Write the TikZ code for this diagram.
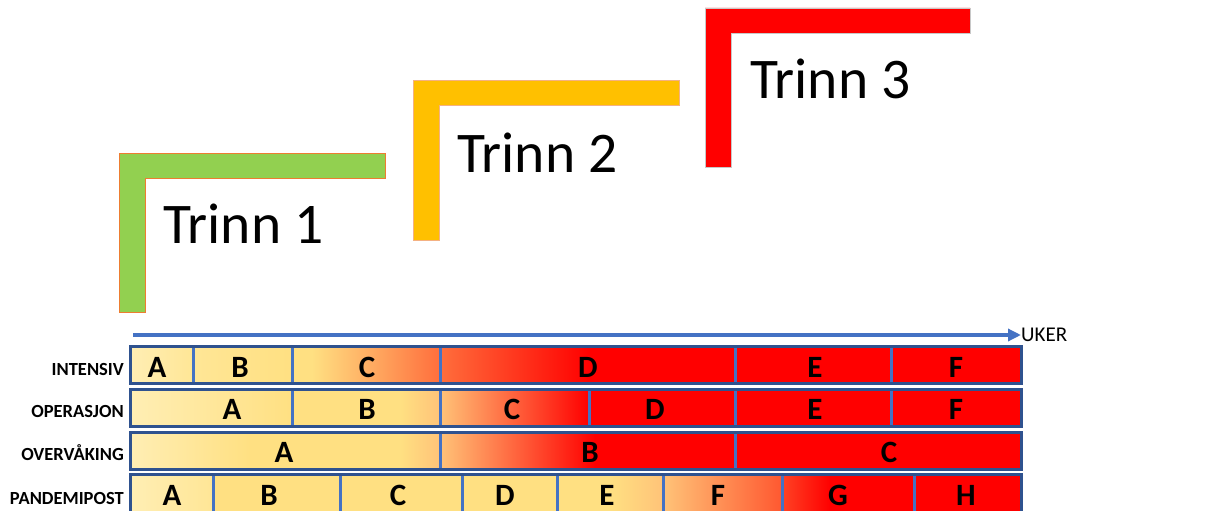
\documentclass[tikz,border=0pt]{standalone}
\usepackage{fontspec}
\setmainfont{Carlito}
\usetikzlibrary{arrows.meta}

\definecolor{trinngreen}{RGB}{146,208,80}
\definecolor{trinnyellow}{RGB}{255,192,0}
\definecolor{trinnorange}{RGB}{237,125,49}
\definecolor{trinnpeach}{RGB}{244,177,131}
\definecolor{trinngray}{RGB}{200,200,200}
\definecolor{axisblue}{RGB}{68,114,196}
\definecolor{boxblue}{RGB}{47,82,143}
\definecolor{paleyel}{RGB}{255,238,180}
\definecolor{lightyel}{RGB}{255,230,150}
\definecolor{midyel}{RGB}{255,224,130}
\definecolor{peach}{RGB}{255,195,120}
\definecolor{orgred}{RGB}{255,110,60}
\definecolor{fullred}{RGB}{255,0,0}

\tikzset{
  trinn/.style={anchor=base west, inner sep=0pt, font=\fontsize{57.5}{60}\selectfont},
  rowlbl/.style={anchor=base east, inner sep=0pt, font=\fontsize{18.5}{20}\selectfont\bfseries},
  seglbl/.style={anchor=base, inner sep=0pt, font=\fontsize{31}{33}\selectfont\bfseries},
  divider/.style={axisblue, line width=3pt},
  rowbox/.style={boxblue, line width=3pt}
}

\begin{document}
\begin{tikzpicture}[x=1pt, y=-1pt, line join=miter, >={Triangle[length=13pt,width=12pt]}]
  \useasboundingbox (0,0) rectangle (1226,511);

  % trinn
  \draw[trinnorange, fill=trinngreen, line width=0.8pt] (119,153)--(385,153)--(385,178)--(145,178)--(145,312)--(119,312)--cycle;
  \draw[trinnpeach, fill=trinnyellow, line width=0.8pt] (413,80)--(679,80)--(679,105)--(439,105)--(439,240)--(413,240)--cycle;
  \draw[trinngray, fill=fullred, line width=0.8pt] (705,8)--(970,8)--(970,33)--(731,33)--(731,167)--(705,167)--cycle;
  \node[trinn] (trinn1) at (163,243) {Trinn 1};
  \node[trinn] (trinn2) at (457,172) {Trinn 2};
  \node[trinn] (trinn3) at (750,99) {Trinn 3};

  % tidsakse
  \coordinate (t0) at (133,335);
  \node[anchor=west, inner sep=0pt, font=\fontsize{21}{23}\selectfont] (uker) at (1021,335) {UKER};
  \draw[->, axisblue, line width=3.5pt] (t0) -- (uker.west);

  % INTENSIV
  \foreach \xa/\xb/\ca/\cb in {130/193/paleyel/lightyel, 193/292/lightyel/midyel, 292/312/midyel/midyel,
      312/440/midyel/orgred, 440/590/orgred/fullred, 590/1021/fullred/fullred}
    \shade[left color=\ca, right color=\cb] (\xa,346) rectangle (\xb,383);
  \foreach \x in {193,292,440,735,891}
    \draw[divider] (\x,346) -- (\x,383);
  \draw[rowbox] (130,346) rectangle (1021,383);
  \node[rowlbl] (intensiv) at (124,375) {INTENSIV};
  \foreach \x/\l in {157/A,240/B,367/C,588/D,815/E,956/F}
    \node[seglbl] (int-\l) at (\x,377) {\l};

  % OPERASJON
  \foreach \xa/\xb/\ca/\cb in {130/292/paleyel/midyel, 292/400/midyel/midyel, 400/440/midyel/peach,
      440/589/peach/fullred, 589/1021/fullred/fullred}
    \shade[left color=\ca, right color=\cb] (\xa,389) rectangle (\xb,426);
  \foreach \x in {292,440,589,735,891}
    \draw[divider] (\x,389) -- (\x,426);
  \draw[rowbox] (130,389) rectangle (1021,426);
  \node[rowlbl] (operasjon) at (124,417) {OPERASJON};
  \foreach \x/\l in {232/A,367/B,512/C,655/D,815/E,956/F}
    \node[seglbl] (op-\l) at (\x,419) {\l};

  % OVERVÅKING
  \foreach \xa/\xb/\ca/\cb in {130/250/paleyel/midyel, 250/400/midyel/midyel, 400/440/midyel/peach,
      440/595/peach/fullred, 595/1021/fullred/fullred}
    \shade[left color=\ca, right color=\cb] (\xa,432) rectangle (\xb,469);
  \foreach \x in {440,735}
    \draw[divider] (\x,432) -- (\x,469);
  \draw[rowbox] (130,432) rectangle (1021,469);
  \node[rowlbl] (overvaking) at (124,460) {OVERVÅKING};
  \foreach \x/\l in {284/A,590/B,889/C}
    \node[seglbl] (ov-\l) at (\x,462) {\l};

  % PANDEMIPOST
  \foreach \xa/\xb/\ca/\cb in {130/213/paleyel/lightyel, 213/610/midyel/midyel, 610/663/midyel/peach,
      663/782/peach/orgred!80!fullred, 782/830/orgred!60!fullred/fullred, 830/1021/fullred/fullred}
    \shade[left color=\ca, right color=\cb] (\xa,474) rectangle (\xb,514);
  \foreach \x in {213,340,462,557,663,782,914}
    \draw[divider] (\x,474) -- (\x,514);
  \draw[rowbox] (130,474) rectangle (1021,514);
  \node[rowlbl] (pandemipost) at (124,504) {PANDEMIPOST};
  \foreach \x/\l in {172/A,269/B,398/C,505/D,607/E,718/F,838/G,966/H}
    \node[seglbl] (pp-\l) at (\x,505) {\l};
\end{tikzpicture}
\end{document}
